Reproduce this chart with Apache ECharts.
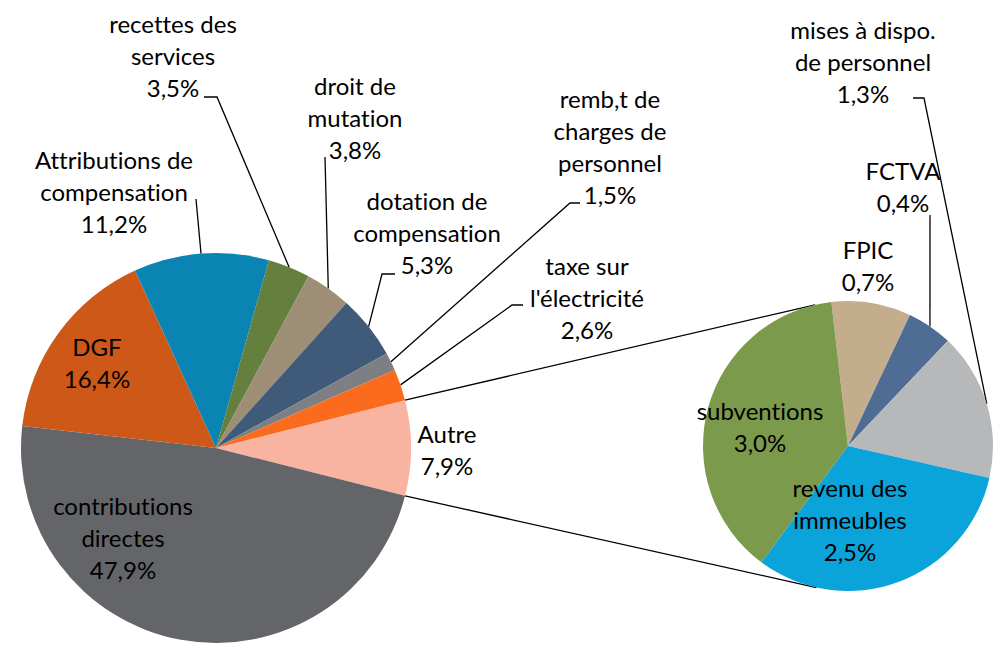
<!DOCTYPE html>
<html>
<head>
<meta charset="utf-8">
<script src="https://cdn.jsdelivr.net/npm/echarts@6/dist/echarts.min.js"></script>
<style>
  html, body { margin: 0; padding: 0; background: #fff; }
  #chart { width: 1000px; height: 649px; }
  #chart text { font-variant-ligatures: none; font-feature-settings: "liga" 0, "clig" 0; }
</style>
</head>
<body>
<div id="chart"></div>
<script>
// --- data ---
var mainNames = ['Autre', 'contributions\ndirectes', 'DGF', 'Attributions de\ncompensation',
  'recettes des\nservices', 'droit de\nmutation', 'dotation de\ncompensation',
  'remb,t de\ncharges de\npersonnel', 'taxe sur\nl\'électricité'];
var mainValues = [7.9, 47.9, 16.4, 11.2, 3.5, 3.8, 5.3, 1.5, 2.6];
var subNames = ['FPIC', 'FCTVA', 'mises à dispo.\nde personnel', 'revenu des\nimmeubles', 'subventions'];
var subValues = [0.7, 0.4, 1.3, 2.5, 3.0];

// --- styles ---
var mainColors = ['#f9b3a1', '#646569', '#cd5817', '#0a84b3', '#657f3e', '#9f8e76', '#405a7a', '#7e7f82', '#fb6b1e'];
var subColors = ['#c3ad8c', '#4e6c94', '#b7b8ba', '#0aa3da', '#7b9a4c'];
var font = 'Lato';

var mainCenter = [216, 448], mainR = 195;
var subCenter = [848, 446], subR = 145;

// label anchor (center of text block) and leader bends
var mainLabelPos = [[447, 449], [123, 537], [97, 362], [114, 191], [173, 55], [355, 117], [427, 232], [610, 146], [587, 297]];
var mainLeader = [null, null, null, [[196, 199]], [[217, 97], [204, 97]], [[325, 157]], [[382, 274], [395, 274]], [[570, 203], [580, 203]], [[512, 305], [523, 305]]];
var subLabelPos = [[868, 265], [903, 186], [863, 61], [850, 519], [760, 426]];
var subLeader = [null, [[930, 215]], [[924, 98], [913, 98]], null, null];

function fmt(v) { return v.toFixed(1).replace('.', ',') + '%'; }

function sum(a) { return a.reduce(function(s, v) { return s + v; }, 0); }

function buildData(names, values, colors, leaders) {
  return names.map(function(n, i) {
    return {
      name: n, value: values[i],
      itemStyle: { color: colors[i] },
      labelLine: { show: !!leaders[i] }
    };
  });
}

function layoutFor(pos, leaders) {
  return function(p) {
    var i = p.dataIndex;
    var res = { x: pos[i][0], y: pos[i][1], align: 'center', verticalAlign: 'middle' };
    if (leaders[i] && p.labelLinePoints) {
      var pts = [p.labelLinePoints[0]].concat(leaders[i]);
      while (pts.length < 3) pts.push(pts[pts.length - 1]);
      res.labelLinePoints = pts;
    }
    return res;
  };
}

// connector lines from the "Autre" slice edges to tangents of the second pie
var half = mainValues[0] / sum(mainValues) * Math.PI;
function edgePoint(a) {
  return [mainCenter[0] + mainR * Math.cos(a), mainCenter[1] - mainR * Math.sin(a)];
}
function tangent(p, upper) {
  var vx = p[0] - subCenter[0], vy = p[1] - subCenter[1];
  var d = Math.sqrt(vx * vx + vy * vy);
  var th = Math.atan2(vy, vx);
  var al = Math.acos(subR / d);
  var t = upper ? th + al : th - al;
  return [subCenter[0] + subR * Math.cos(t), subCenter[1] + subR * Math.sin(t)];
}
var pTop = edgePoint(half), pBot = edgePoint(-half);
var tTop = tangent(pTop, true), tBot = tangent(pBot, false);

var labelStyle = {
  show: true, position: 'outside', color: '#000', fontFamily: font, fontSize: 24, lineHeight: 32,
  formatter: function(p) { return p.name + '\n' + fmt(p.value); }
};
var lineStyle = { color: '#000', width: 1.3 };

var chart = echarts.init(document.getElementById('chart'), null, { renderer: 'svg' });
chart.setOption({
  animation: false,
  backgroundColor: '#fff',
  graphic: [
    { type: 'line', z: 1, shape: { x1: pTop[0], y1: pTop[1], x2: tTop[0], y2: tTop[1] }, style: { stroke: '#000', lineWidth: 1.3 } },
    { type: 'line', z: 1, shape: { x1: pBot[0], y1: pBot[1], x2: tBot[0], y2: tBot[1] }, style: { stroke: '#000', lineWidth: 1.3 } }
  ],
  series: [
    {
      type: 'pie', silent: true,
      center: mainCenter, radius: mainR,
      startAngle: mainValues[0] / sum(mainValues) * 180,
      clockwise: true, avoidLabelOverlap: false,
      label: labelStyle,
      labelLine: { lineStyle: lineStyle, length: 10, length2: 10 },
      labelLayout: layoutFor(mainLabelPos, mainLeader),
      emphasis: { disabled: true },
      data: buildData(mainNames, mainValues, mainColors, mainLeader)
    },
    {
      type: 'pie', silent: true,
      center: subCenter, radius: subR,
      startAngle: 96.6,
      clockwise: true, avoidLabelOverlap: false,
      label: labelStyle,
      labelLine: { lineStyle: lineStyle, length: 10, length2: 10 },
      labelLayout: layoutFor(subLabelPos, subLeader),
      emphasis: { disabled: true },
      data: buildData(subNames, subValues, subColors, subLeader)
    }
  ]
});
</script>
</body>
</html>
